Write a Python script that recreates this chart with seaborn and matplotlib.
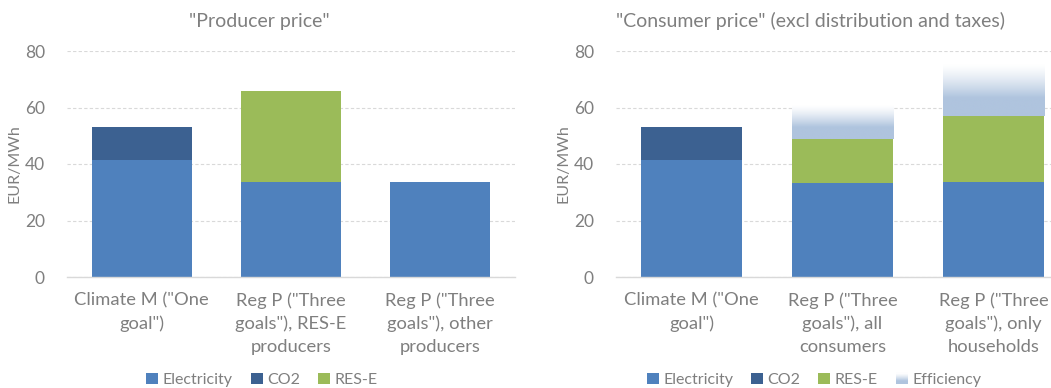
import numpy as np
import pandas as pd
import matplotlib
matplotlib.use("Agg")
import matplotlib.pyplot as plt
from matplotlib.patches import Patch, Rectangle
from matplotlib.legend_handler import HandlerBase
from matplotlib.colors import to_rgb
import seaborn as sns

# ---- data -------------------------------------------------------------
components = ["Electricity", "CO2", "RES-E", "Efficiency"]

producer_cats = ['Climate M ("One\ngoal")',
                 'Reg P ("Three\ngoals"), RES-E\nproducers',
                 'Reg P ("Three\ngoals"), other\nproducers']
producer_electricity = [41.4, 33.6, 33.6]
producer_co2 = [11.7, 0.0, 0.0]
producer_rese = [0.0, 32.2, 0.0]
producer_efficiency = [0.0, 0.0, 0.0]

consumer_cats = ['Climate M ("One\ngoal")',
                 'Reg P ("Three\ngoals"), all\nconsumers',
                 'Reg P ("Three\ngoals"), only\nhouseholds']
consumer_electricity = [41.4, 33.3, 33.6]
consumer_co2 = [11.7, 0.0, 0.0]
consumer_rese = [0.0, 15.7, 23.4]
consumer_efficiency = [0.0, 11.9, 18.4]

yticks = [0, 20, 40, 60, 80]

# ---- style ------------------------------------------------------------
colors = {"Electricity": "#4F81BD", "CO2": "#3C6191",
          "RES-E": "#9BBB59", "Efficiency": "#AFC4DE"}
text_gray = "#7F7F7F"
grid_gray = "#D9D9D9"

sns.set_theme(style="white")
plt.rcParams["font.family"] = ["Lato", "DejaVu Sans"]

W, H = 1051, 388
fig = plt.figure(figsize=(W / 100, H / 100), dpi=100)


def fade(t):
    """Blend strength of the efficiency colour: solid low down, white at top."""
    return np.clip((1.0 - t) / 0.65, 0, 1) ** 1.3


def gradient_rgba(n=200):
    t = np.linspace(0, 1, n)[:, None]          # 0 = bottom, 1 = top
    base = np.array(to_rgb(colors["Efficiency"]))
    rgb = 1 - fade(t)[..., None] * (1 - base)
    return np.repeat(rgb, 2, axis=1)


class GradientHandler(HandlerBase):
    def create_artists(self, legend, orig_handle, xdescent, ydescent,
                       width, height, fontsize, trans):
        arts = []
        n = 12
        base = np.array(to_rgb(colors["Efficiency"]))
        for i in range(n):
            t = (i + 0.5) / n
            c = 1 - fade(t) * (1 - base)
            arts.append(Rectangle((-xdescent, -ydescent + height * i / n), width,
                                  height / n + 0.3, facecolor=c,
                                  edgecolor="none", transform=trans))
        return arts


def draw_panel(ax, cats, values):
    df = pd.DataFrame(values, index=components).T
    cum = df[components].cumsum(axis=1)
    # cumulative layers drawn from the top segment down so lower ones overlay
    for z, comp in enumerate(reversed(components)):
        sub = pd.DataFrame({"category": cats, "value": cum[comp].values})
        n_before = len(ax.patches)
        sns.barplot(data=sub, x="category", y="value", order=cats, ax=ax,
                    color=colors[comp], width=0.67, saturation=1,
                    errorbar=None, zorder=2 + z)
        new = ax.patches[n_before:]
        for p in new:
            p.set_edgecolor("none")
            if comp == "Efficiency":
                p.set_facecolor("none")
        if comp == "Efficiency":
            below = cum["RES-E"].values
            top = cum["Efficiency"].values
            for p, b, t in zip(new, below, top):
                if t - b <= 0:
                    continue
                x0 = p.get_x()
                ax.imshow(gradient_rgba(), origin="lower",
                          extent=(x0, x0 + p.get_width(), b, t),
                          aspect="auto", zorder=2 + z, interpolation="bilinear")
    ax.set_xlim(-0.5, 2.5)
    ax.set_ylim(0, 80)
    ax.set_yticks(yticks)
    ax.set_xlabel("")
    ax.set_ylabel("EUR/MWh", color=text_gray, fontsize=11.5, labelpad=2)
    ax.yaxis.grid(True, color=grid_gray, linestyle=(0, (3, 2)), linewidth=0.8)
    ax.set_axisbelow(True)
    for s in ["left", "right", "top"]:
        ax.spines[s].set_visible(False)
    ax.spines["bottom"].set_color(grid_gray)
    ax.spines["bottom"].set_linewidth(1.0)
    ax.spines["bottom"].set_zorder(10)
    ax.tick_params(axis="y", length=0, pad=16, labelsize=12.5, labelcolor=text_gray)
    ax.tick_params(axis="x", length=0, pad=11, labelsize=13.2, labelcolor=text_gray)
    for lbl in ax.get_xticklabels():
        lbl.set_linespacing(1.5)
        lbl.set_multialignment("center")


ax1 = fig.add_axes([67 / W, 1 - 277 / H, 448 / W, 226 / H])
draw_panel(ax1, producer_cats,
           [producer_electricity, producer_co2, producer_rese, producer_efficiency])

ax2 = fig.add_axes([616 / W, 1 - 277 / H, 453 / W, 226 / H])
draw_panel(ax2, consumer_cats,
           [consumer_electricity, consumer_co2, consumer_rese, consumer_efficiency])

fig.text(259 / W, 1 - 21 / H, '"Producer price"', ha="center", va="center",
         fontsize=14, color=text_gray)
fig.text(811 / W, 1 - 21 / H, '"Consumer price" (excl distribution and taxes)',
         ha="center", va="center", fontsize=14, color=text_gray)

legend_kw = dict(frameon=False, fontsize=11.5, labelcolor=text_gray,
                 handlelength=0.75, handleheight=0.75, handletextpad=0.3,
                 columnspacing=1.1, loc="center")

h1 = [Patch(facecolor=colors[c], edgecolor="none") for c in components[:3]]
fig.legend(h1, components[:3], ncol=3, bbox_to_anchor=(262 / W, 1 - 380 / H),
           **legend_kw)

eff_handle = Patch(facecolor=colors["Efficiency"], edgecolor="none")
fig.legend(h1 + [eff_handle], components, ncol=4,
           bbox_to_anchor=(814 / W, 1 - 380 / H),
           handler_map={eff_handle: GradientHandler()}, **legend_kw)

fig.savefig("out.png", dpi=100)
